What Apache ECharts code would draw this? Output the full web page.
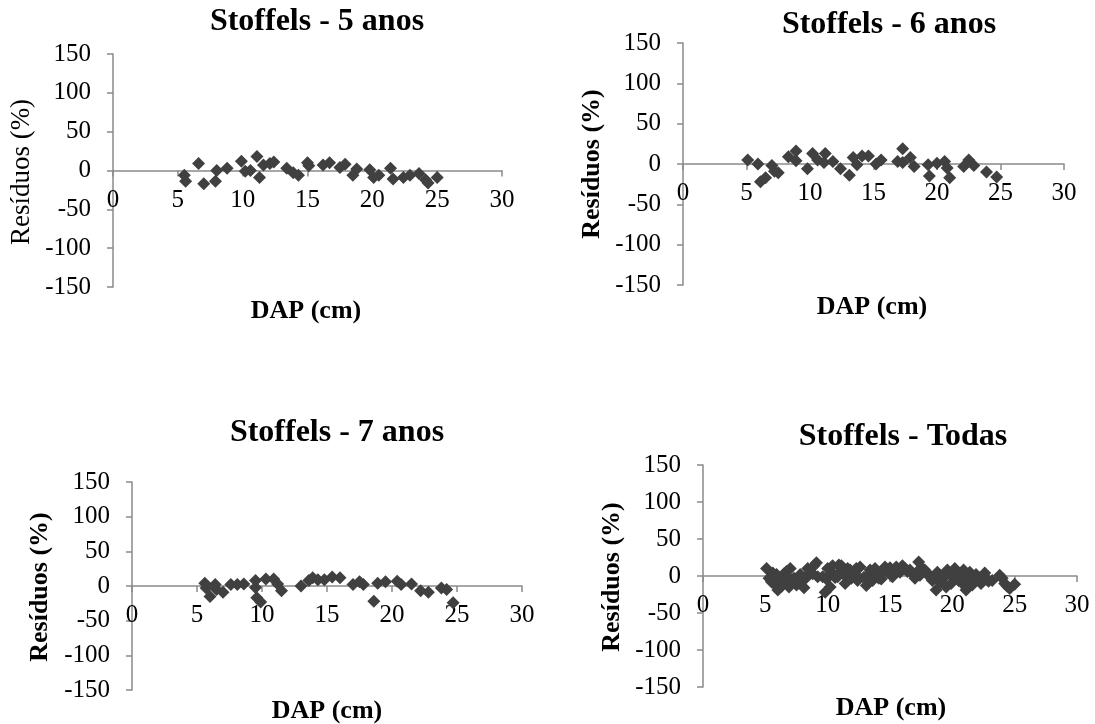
<!DOCTYPE html>
<html>
<head>
<meta charset="utf-8">
<script src="https://cdn.jsdelivr.net/npm/echarts@6/dist/echarts.min.js"></script>
<style>
  html, body { margin: 0; padding: 0; background: #fff; }
  #chart { width: 1095px; height: 724px; }
</style>
</head>
<body>
<div id="chart"></div>
<script>
// Residuals (%) against DBH (cm) for the Stoffels model, by age class
const panelTitles = ['Stoffels - 5 anos', 'Stoffels - 6 anos', 'Stoffels - 7 anos', 'Stoffels - Todas'];
const xAxisTitle = 'DAP (cm)';
const yAxisTitle = 'Resíduos (%)';

const xTicks = { min: 0, max: 30, step: 5 };
const yTicks = { min: -150, max: 150, step: 50 };

const residuos5 = [
  [5.5,-6],[5.6,-14],[6.6,9],[7.0,-17],[7.9,-14],[8.0,0],[8.8,3],[9.9,12],[10.2,-1],[10.6,0],
  [11.1,18],[11.3,-9],[11.6,7],[12.1,9],[12.4,11],[13.4,3],[13.9,-3],[14.3,-6],[15.0,10],[15.1,6],
  [16.2,7],[16.7,10],[17.5,4],[17.9,8],[18.5,-6],[18.8,2],[19.8,1],[20.1,-9],[20.5,-6],[21.4,3],
  [21.6,-11],[22.4,-9],[22.9,-6],[23.6,-4],[24.1,-12],[24.3,-16],[25.0,-9]
];

const residuos6 = [
  [5.1,5],[5.9,0],[6.1,-22],[6.5,-17],[7.0,-2],[7.2,-9],[7.5,-11],[8.3,9],[8.9,16],[8.9,4],
  [9.8,-6],[10.2,13],[10.6,5],[11.2,13],[11.1,2],[11.8,3],[12.4,-6],[13.1,-14],[13.4,8],[13.7,-1],
  [14.1,10],[14.6,10],[15.2,0],[15.6,5],[16.9,3],[17.3,19],[17.3,2],[17.9,8],[18.2,-3],[19.3,-1],
  [19.4,-15],[20.0,1],[20.6,3],[20.8,-5],[21.0,-17],[22.1,-3],[22.5,5],[22.9,-2],[23.9,-10],[24.7,-16]
];

const residuos7 = [
  [5.6,4],[5.7,-3],[6.0,-15],[6.4,2],[6.5,-5],[7.0,-9],[7.6,2],[8.1,2],[8.6,3],[9.5,8],
  [9.5,-2],[9.6,-17],[9.9,-23],[10.3,10],[10.9,10],[11.2,3],[11.5,-7],[13.0,0],[13.6,8],[13.9,12],
  [14.3,9],[14.8,9],[15.4,13],[16.0,12],[17.0,2],[17.5,6],[17.8,2],[18.6,-22],[18.9,4],[19.5,6],
  [20.4,7],[20.7,2],[21.5,3],[22.2,-7],[22.8,-9],[23.8,-3],[24.2,-5],[24.7,-24]
];

const residuosTodas = [
  [5.1,10],[5.3,-3],[5.5,-8],[5.6,4],[5.8,-12],[5.9,2],[6.0,-19],[6.1,-6],[6.3,-14],
  [6.4,-10],[6.5,3],[6.7,6],[6.8,-1],[6.9,-15],[7.0,10],[7.1,-6],
  [7.3,-3],[7.5,-12],[7.7,-9],[7.8,2],[8.0,-5],[8.1,-16],
  [8.3,-2],[8.4,10],[8.6,5],[8.8,3],[8.9,14],[9.1,18],[9.2,-1],
  [9.6,-1],[9.8,-22],[9.9,-4],[10.0,10],[10.2,-15],[10.3,4],[10.4,14],[10.6,-2],[10.8,-1],[10.9,15],[11.0,6],
  [11.1,14],[11.3,2],[11.4,-10],[11.6,10],[11.8,8],[11.9,-3],[12.2,3],[12.3,10],[12.4,-6],[12.6,12],
  [12.9,-2],[13.1,-13],[13.3,3],[13.4,8],[13.6,-6],[13.8,10],[13.9,2],
  [14.1,-3],[14.3,-4],[14.5,8],[14.6,12],[14.8,5],[15.0,11],[15.2,-1],[15.3,7],[15.5,12],
  [15.8,5],[16.0,14],[16.2,10],[16.4,6],[16.6,8],[16.8,3],[17.0,-3],
  [17.2,6],[17.3,19],[17.4,1],[17.6,10],[17.8,8],[18.0,2],[18.3,-1],[18.4,-6],
  [18.7,-19],[18.8,5],[19.0,-8],[19.2,-4],[19.4,3],[19.5,-15],[19.6,8],[19.9,-10],[20.0,-1],
  [20.2,10],[20.3,3],[20.5,-6],[20.7,3],[20.8,-10],[20.9,8],[21.1,-19],[21.2,-3],[21.4,5],
  [21.6,-12],[21.7,-8],[21.9,2],[22.0,-4],[22.3,-10],[22.5,1],[22.6,4],[22.7,-4],[22.9,-7],
  [23.2,-6],[23.8,1],[24.0,-3],[24.2,-10],[24.4,-14],[24.6,-17],[25.0,-11]
];

const seriesData = [residuos5, residuos6, residuos7, residuosTodas];

// Plot boxes and text anchors for the 2x2 layout
const panels = [
  { grid: { left: 113, top: 54, width: 389, height: 233 }, title: [317, 22], xName: [306, 311], yName: [22, 172], yNameBold: false },
  { grid: { left: 683, top: 43, width: 381, height: 242 }, title: [889, 25], xName: [872, 307], yName: [592, 164], yNameBold: true },
  { grid: { left: 132, top: 482, width: 390, height: 208 }, title: [337, 433], xName: [327, 711], yName: [40, 587], yNameBold: true },
  { grid: { left: 703, top: 465, width: 374, height: 222 }, title: [903, 437], xName: [891, 708], yName: [612, 577], yNameBold: true }
];

const serif = '"Liberation Serif", "Times New Roman", serif';
const axisGray = '#8a8a8a';
const markerColor = '#404040';

const grids = [], xAxes = [], yAxes = [], series = [], graphics = [];

panels.forEach((p, i) => {
  grids.push(Object.assign({ containLabel: false }, p.grid));
  // the horizontal axis crosses the vertical one at zero, half way up the symmetric range
  xAxes.push({
    type: 'value', gridIndex: i, position: 'bottom',
    offset: -p.grid.height * (0 - yTicks.min) / (yTicks.max - yTicks.min),
    min: xTicks.min, max: xTicks.max, interval: xTicks.step,
    axisLine: { onZero: false, lineStyle: { color: axisGray, width: 1.5 } },
    axisTick: { show: true, inside: false, length: 6, lineStyle: { color: axisGray, width: 1.5 } },
    axisLabel: { color: '#000', fontFamily: serif, fontSize: 25, margin: 17, showMinLabel: true, showMaxLabel: true },
    splitLine: { show: false }
  });
  yAxes.push({
    type: 'value', gridIndex: i,
    min: yTicks.min, max: yTicks.max, interval: yTicks.step,
    axisLine: { show: true, onZero: false, lineStyle: { color: axisGray, width: 1.5 } },
    axisTick: { show: true, inside: false, length: 6, lineStyle: { color: axisGray, width: 1.5 } },
    axisLabel: { color: '#000', fontFamily: serif, fontSize: 25, margin: 22 },
    splitLine: { show: false }
  });
  series.push({
    type: 'scatter', xAxisIndex: i, yAxisIndex: i,
    symbol: 'diamond', symbolSize: 13,
    itemStyle: { color: markerColor, opacity: 1 },
    data: seriesData[i],
    silent: true
  });
  graphics.push({
    type: 'text', x: p.title[0], y: p.title[1],
    style: { text: panelTitles[i], font: 'bold 32px ' + serif, fill: '#000', align: 'center', verticalAlign: 'middle' }
  });
  graphics.push({
    type: 'text', x: p.xName[0], y: p.xName[1],
    style: { text: xAxisTitle, font: 'bold 26px ' + serif, fill: '#000', align: 'center', verticalAlign: 'middle' }
  });
  graphics.push({
    type: 'text', x: p.yName[0], y: p.yName[1], rotation: Math.PI / 2,
    style: { text: yAxisTitle, font: (p.yNameBold ? 'bold 26px ' : '27px ') + serif, fill: '#000', align: 'center', verticalAlign: 'middle' }
  });
});

const chart = echarts.init(document.getElementById('chart'), null, { renderer: 'canvas' });
chart.setOption({
  backgroundColor: '#fff',
  animation: false,
  grid: grids,
  xAxis: xAxes,
  yAxis: yAxes,
  series: series,
  graphic: graphics
});
</script>
</body>
</html>
